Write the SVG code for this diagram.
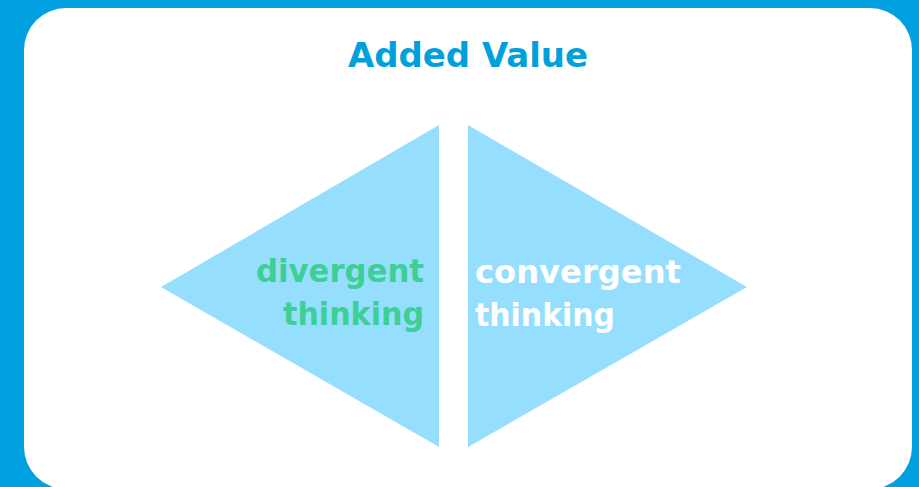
<svg xmlns="http://www.w3.org/2000/svg" width="919" height="487" viewBox="0 0 919 487">
  <style>
    .lbl { font-family: "DejaVu Sans", "Liberation Sans", sans-serif; font-weight: bold; font-size: 32px; }
    .ttl { font-size: 34px; }
    .tri { fill: #96DEFD; }
  </style>
  <rect x="0" y="0" width="919" height="487" fill="#009FDF"/>
  <rect x="24" y="8" width="888" height="481" rx="42" ry="42" fill="#FFFFFF"/>
  <g id="title">
    <text class="lbl ttl" x="348" y="67" fill="#00A0DC" textLength="240" lengthAdjust="spacingAndGlyphs">Added Value</text>
  </g>
  <g id="divergent">
    <polygon class="tri" points="439,125 439,447 161,287"/>
    <text class="lbl" fill="#3DCF96" x="256" y="282" textLength="168" lengthAdjust="spacingAndGlyphs">divergent</text>
    <text class="lbl" fill="#3DCF96" x="283" y="325" textLength="141" lengthAdjust="spacingAndGlyphs">thinking</text>
  </g>
  <g id="convergent">
    <polygon class="tri" points="468,125 468,447 747,287"/>
    <text class="lbl" fill="#FFFFFF" x="475" y="283" textLength="206" lengthAdjust="spacingAndGlyphs">convergent</text>
    <text class="lbl" fill="#FFFFFF" x="475" y="326" textLength="140" lengthAdjust="spacingAndGlyphs">thinking</text>
  </g>
  <g id="connectors"/>
</svg>
